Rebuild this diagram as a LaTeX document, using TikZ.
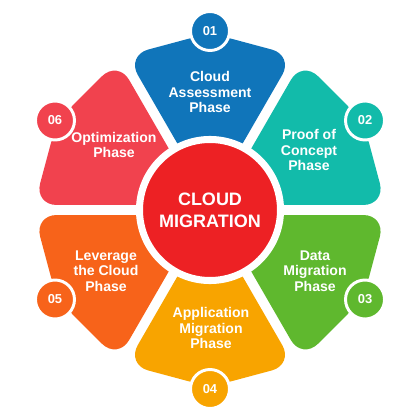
\documentclass[tikz,border=0pt]{standalone}
\usepackage{fontspec}
\setmainfont{Liberation Sans}
\usepackage{xcolor}
\usetikzlibrary{positioning}
\definecolor{phaseblue}{RGB}{16,117,186}
\definecolor{phaseteal}{RGB}{18,187,170}
\definecolor{phasegreen}{RGB}{95,184,46}
\definecolor{phaseyellow}{RGB}{248,164,0}
\definecolor{phaseorange}{RGB}{247,99,26}
\definecolor{phasered}{RGB}{241,66,78}
\definecolor{corered}{RGB}{237,33,36}
\tikzset{
  petal/.style={
    rounded corners=16pt,
    draw=none
  },
  phasetext/.style={
    text=white,
    align=center,
    inner sep=0pt,
    font=\fontsize{10}{11}\selectfont\bfseries
  },
  badge/.style={
    circle,
    draw=white,
    line width=2.1pt,
    minimum size=0.975cm,
    inner sep=0pt,
    text=white,
    font=\fontsize{9.2}{10}\selectfont\bfseries
  },
  core/.style={
    circle,
    fill=corered,
    draw=white,
    line width=5pt,
    minimum size=3.525cm,
    inner sep=0pt,
    align=center,
    text=white,
    font=\fontsize{12.8}{15.6}\selectfont\bfseries
  }
}

\begin{document}
\begin{tikzpicture}[x=0.025cm, y=0.025cm]
\fill[white] (-210,-210) rectangle (210,210);
\useasboundingbox (-210,-210) rectangle (210,210);

% petals
\fill[petal, phaseblue, shift={(90:10)}] (0,0) -- (120:167) -- (90:167) -- (60:167) -- cycle;
\fill[petal, phaseteal, shift={(30:10)}] (0,0) -- (60:167) -- (30:167) -- (0:167) -- cycle;
\fill[petal, phasegreen, shift={(-30:10)}] (0,0) -- (0:167) -- (-30:167) -- (-60:167) -- cycle;
\fill[petal, phaseyellow, shift={(-90:10)}] (0,0) -- (-60:167) -- (-90:167) -- (-120:167) -- cycle;
\fill[petal, phaseorange, shift={(-150:10)}] (0,0) -- (-120:167) -- (-150:167) -- (-180:167) -- cycle;
\fill[petal, phasered, shift={(150:10)}] (0,0) -- (180:167) -- (150:167) -- (120:167) -- cycle;

% centre
\node[core] (cloud) at (0,0) {CLOUD\\MIGRATION};

% phase labels
\node[phasetext] (assess) at (0,118) {Cloud\\Assessment\\Phase};
\node[phasetext] (proof) at (99,60) {Proof of\\Concept\\Phase};
\node[phasetext] (data) at (105,-61) {Data\\Migration\\Phase};
\node[phasetext] (app) at (1,-118) {Application\\Migration\\Phase};
\node[phasetext] (leverage) at (-104,-61) {Leverage\\the Cloud\\Phase};
\node[phasetext] (optim) at (-96,65) {Optimization\\Phase};

% numbers
\node[badge, fill=phaseblue] (n1) at (90:179) {01};
\node[badge, fill=phaseteal] (n2) at (30:179) {02};
\node[badge, fill=phasegreen] (n3) at (-30:179) {03};
\node[badge, fill=phaseyellow] (n4) at (-90:179) {04};
\node[badge, fill=phaseorange] (n5) at (-150:179) {05};
\node[badge, fill=phasered] (n6) at (150:179) {06};
\end{tikzpicture}
\end{document}
